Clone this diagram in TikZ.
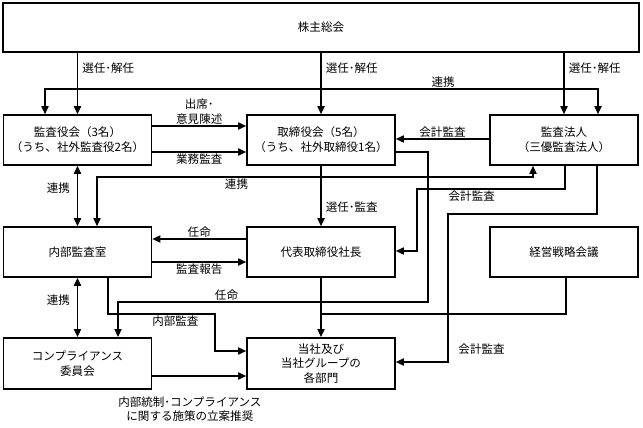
\documentclass[tikz,border=0pt]{standalone}
\usepackage{fontspec}
\newfontfamily\jpfont{Noto Sans CJK JP}
\usetikzlibrary{arrows.meta, positioning}
\tikzset{
    x=0.025cm,
    y=-0.025cm,
    box/.style={draw, line width=1.2pt, minimum width=3.7cm, minimum height=1.25cm, inner sep=0pt, align=center},
    line/.style={line width=0.9pt},
    arr/.style={line, -{Triangle[length=2mm, width=1.8mm]}},
    both/.style={line, {Triangle[length=2mm, width=1.8mm]}-{Triangle[length=2mm, width=1.8mm]}},
    lbl/.style={inner sep=1pt, align=center},
}

\begin{document}
\begin{tikzpicture}[font=\jpfont\fontsize{8.2}{10.5}\selectfont]
    \useasboundingbox (0,0) rectangle (643,427);

    \node[box, minimum width=15.9cm, minimum height=1.22cm] (soukai) at (321,27.5) {株主総会};
    \node[box] (kansayaku) at (77.5,140) {監査役会（3名）\\（うち、社外監査役2名）};
    \node[box] (torishimari) at (321,140) {取締役会（5名）\\（うち、社外取締役1名）};
    \node[box] (houjin) at (564,140) {監査法人\\（三優監査法人）};
    \node[box] (naibu) at (77.5,252) {内部監査室};
    \node[box] (shachou) at (321,252) {代表取締役社長};
    \node[box] (senryaku) at (564,252) {経営戦略会議};
    \node[box, minimum height=1.28cm] (compliance) at (77.5,363.5) {コンプライアンス\\委員会};
    \node[box, minimum height=1.28cm] (kakubumon) at (321,363.5) {当社及び\\当社グループの\\各部門};

    \coordinate (rk1) at (45,89);
    \coordinate (rk2) at (598,89);

    \draw[arr] (soukai.south -| kansayaku.north) -- node[lbl, right=2pt, pos=0.25] {選任･解任} (kansayaku.north);
    \draw[arr] (soukai.south -| torishimari.north) -- node[lbl, right=2pt, pos=0.25] {選任･解任} (torishimari.north);
    \draw[arr] (soukai.south -| houjin.north) -- node[lbl, right=2pt, pos=0.25] {選任･解任} (houjin.north);
    \draw[both] (kansayaku.north -| rk1) -- (rk1) -- node[lbl, above, pos=0.72] {連携} (rk2) -- (houjin.north -| rk2);

    \draw[arr] (kansayaku.east |- 0,126) -- node[lbl, above] {出席･\\意見陳述} (torishimari.west |- 0,126);
    \draw[arr] (kansayaku.east |- 0,152) -- node[lbl, below] {業務監査} (torishimari.west |- 0,152);
    \draw[arr] (houjin.west |- 0,139) -- node[lbl, above] {会計監査} (torishimari.east |- 0,139);
    \draw[arr] (torishimari.east |- 0,152) -- (428,152) -- (428,302)
        -- node[lbl, above, pos=0.65] {任命} (118,302) -- (compliance.north -| 118,0);

    \draw[both] (kansayaku.south) -- node[lbl, left=4pt, pos=0.37] {連携} (naibu.north);
    \draw[both] (naibu.north -| 97,0) -- (97,177) -- node[lbl, below, pos=0.32] {連携} (533,177) -- (houjin.south -| 533,0);
    \draw[arr] (torishimari.south) -- node[lbl, right=2pt, pos=0.69] {選任･監査} (shachou.north);
    \draw[arr] (houjin.south -| 565,0) -- (565,189) -- node[lbl, below, pos=0.63] {会計監査} (417,189)
        -- (417,251) -- (shachou.east |- 0,251);
    \draw[arr] (houjin.south -| 597,0) -- (597,214) -- (448,214)
        -- node[lbl, right=6pt, pos=0.91] {会計監査} (448,362) -- (kakubumon.east |- 0,362);

    \draw[arr] (shachou.west |- 0,239) -- node[lbl, above] {任命} (naibu.east |- 0,239);
    \draw[arr] (naibu.east |- 0,262) -- node[lbl, below] {監査報告} (shachou.west |- 0,262);
    \draw[both] (naibu.south) -- node[lbl, left=4pt, pos=0.38] {連携} (compliance.north);
    \draw[arr] (naibu.south -| 108,0) -- (108,314) -- node[lbl, below, pos=0.63] {内部監査} (215,314)
        -- (215,351) -- (kakubumon.west |- 0,351);
    \draw[arr] (shachou.south) -- (kakubumon.north);
    \draw[line] (senryaku.south -| 566,0) -- (566,314) -- (kakubumon.north |- 0,314);
    \draw[arr] (compliance.east |- 0,376) -- node[lbl, below=13pt, pos=0.4] {内部統制･コンプライアンス\\に関する施策の立案推奨} (kakubumon.west |- 0,376);
\end{tikzpicture}
\end{document}
